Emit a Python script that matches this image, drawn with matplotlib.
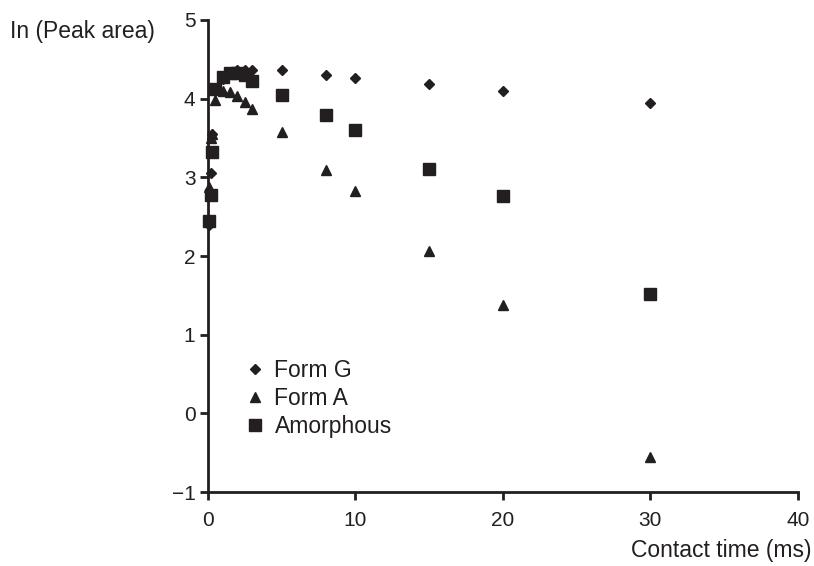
import matplotlib
matplotlib.use("Agg")
import matplotlib.pyplot as plt
from matplotlib.lines import Line2D

plt.rcParams['font.family'] = ['Liberation Sans', 'DejaVu Sans']

# Data
time = [0.1, 0.2, 0.3, 0.5, 1, 1.5, 2, 2.5, 3, 5, 8, 10, 15, 20, 30]
form_g = [2.40, 3.06, 3.55, 4.10, 4.25, 4.33, 4.36, 4.37, 4.37, 4.36, 4.30, 4.26, 4.18, 4.10, 3.94]
form_a = [2.88, 3.50, 3.55, 3.98, 4.10, 4.08, 4.03, 3.96, 3.87, 3.58, 3.09, 2.83, 2.06, 1.38, -0.56]
amorph = [2.45, 2.78, 3.32, 4.12, 4.28, 4.33, 4.33, 4.30, 4.22, 4.05, 3.79, 3.60, 3.11, 2.76, 1.52]

xticks = [0, 10, 20, 30, 40]
yticks = [-1, 0, 1, 2, 3, 4, 5]

c = '#231f20'
fs = 16.5
fig = plt.figure(figsize=(8.14, 5.66), dpi=100)
ax = fig.add_axes([0.2555, 0.1307, 0.7245, 0.834])

ax.plot(time, form_g, linestyle='none', marker='D', ms=5, color=c, label='Form G', clip_on=False)
ax.plot(time, form_a, linestyle='none', marker='^', ms=7.5, color=c, label='Form A', clip_on=False)
ax.plot(time, amorph, linestyle='none', marker='s', ms=8.5, color=c, label='Amorphous', clip_on=False)

ax.set_xlim(0, 40)
ax.set_ylim(-1, 5)
ax.set_xticks(xticks)
ax.set_yticks(yticks)
ax.set_yticklabels(['\u22121' if v == -1 else str(v) for v in yticks])
for s in ['top', 'right']:
    ax.spines[s].set_visible(False)
for s in ['left', 'bottom']:
    ax.spines[s].set_linewidth(2)
    ax.spines[s].set_color(c)
ax.tick_params(direction='out', length=6, width=2, color=c, labelsize=15, labelcolor=c)
ax.tick_params(axis='x', pad=8)
ax.tick_params(axis='y', pad=3)

fig.text(0.012, 0.945, 'In (Peak area)', fontsize=fs, color=c, ha='left', va='center')
fig.text(0.997, 0.027, 'Contact time (ms)', fontsize=fs, color=c, ha='right', va='center')

handles = [Line2D([], [], linestyle='none', marker='D', ms=5, color=c),
           Line2D([], [], linestyle='none', marker='^', ms=7.5, color=c),
           Line2D([], [], linestyle='none', marker='s', ms=8.5, color=c)]
leg = ax.legend(handles, ['Form G', 'Form A', 'Amorphous'], loc='upper left',
                bbox_to_anchor=(0.07, 0.281), frameon=False, fontsize=fs,
                handlelength=0.5, handletextpad=0.6, labelspacing=0.2, borderaxespad=0,
                borderpad=0)
for t in leg.get_texts():
    t.set_color(c)

fig.savefig('out.png', dpi=100)
